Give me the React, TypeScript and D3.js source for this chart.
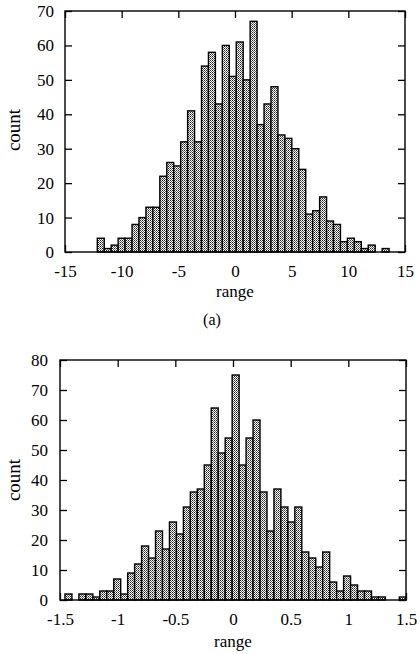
import React, { useEffect, useRef } from 'react';
import * as d3 from 'd3';

// (a) histogram of range, bins start at -12.15, width ~0.613
const topBinStart = -12.15;
const topBinWidth = 0.613;
const topCounts = [
  4, 1, 2, 4, 4, 8, 10, 13, 13, 22, 26, 25, 32, 41, 32, 54, 58, 43, 60, 51, 61,
  50, 67, 37, 43, 48, 34, 33, 30, 24, 11, 12, 16, 9, 8, 3, 4, 3, 1, 2, 0, 1,
];
const topXTicks = [-15, -10, -5, 0, 5, 10, 15];
const topYTicks = [0, 10, 20, 30, 40, 50, 60, 70];

// (b) histogram, bins start at -1.457, width ~0.0604
const botBinStart = -1.457;
const botBinWidth = 0.0604;
const botCounts = [
  2, 0, 2, 2, 1, 3, 3, 7, 2, 9, 12, 18, 14, 23, 17, 26, 22, 31, 36, 37, 45, 64,
  49, 54, 75, 45, 54, 60, 36, 23, 37, 31, 26, 31, 16, 14, 11, 16, 6, 3, 8, 5, 3,
  3, 1, 1, 0, 0, 1,
];
const botXTicks = [-1.5, -1, -0.5, 0, 0.5, 1, 1.5];
const botYTicks = [0, 10, 20, 30, 40, 50, 60, 70, 80];

const FONT = '"Liberation Serif", "Times New Roman", serif';

type Panel = {
  left: number; right: number; top: number; bottom: number;
  xTicks: number[]; yTicks: number[];
  binStart: number; binWidth: number; counts: number[];
  yLabelPad: number; xLabelPad: number;
  countY: number; rangeY: number;
};

const App = () => {
  const svgRef = useRef<SVGSVGElement>(null);

  useEffect(() => {
    const svg = d3.select(svgRef.current);
    svg.selectAll('*').remove();

    // stipple fill for the bars (dotted columns)
    const defs = svg.append('defs');
    const pat = defs.append('pattern')
      .attr('id', 'dots')
      .attr('patternUnits', 'userSpaceOnUse')
      .attr('width', 2)
      .attr('height', 2);
    pat.append('rect').attr('width', 2).attr('height', 2).attr('fill', 'white');
    pat.append('rect').attr('x', 0).attr('y', 0).attr('width', 1).attr('height', 1).attr('fill', '#222');
    pat.append('rect').attr('x', 1).attr('y', 1).attr('width', 1).attr('height', 1).attr('fill', '#666');

    const drawPanel = (p: Panel) => {
      const x = d3.scaleLinear()
        .domain([p.xTicks[0], p.xTicks[p.xTicks.length - 1]])
        .range([p.left, p.right]);
      const y = d3.scaleLinear()
        .domain([0, p.yTicks[p.yTicks.length - 1]])
        .range([p.bottom, p.top]);

      const g = svg.append('g');

      // axes: ticks point inward on all four sides, labels only bottom/left
      const bx = g.append('g')
        .attr('transform', `translate(0,${p.bottom})`)
        .call(d3.axisBottom(x).tickValues(p.xTicks).tickSizeInner(-7).tickSizeOuter(0)
          .tickPadding(p.xLabelPad).tickFormat(d => String(d)));
      const ly = g.append('g')
        .attr('transform', `translate(${p.left},0)`)
        .call(d3.axisLeft(y).tickValues(p.yTicks).tickSizeInner(-7).tickSizeOuter(0)
          .tickPadding(p.yLabelPad).tickFormat(d => String(d)));
      const tx = g.append('g')
        .attr('transform', `translate(0,${p.top})`)
        .call(d3.axisTop(x).tickValues(p.xTicks).tickSizeInner(-7).tickSizeOuter(0).tickFormat(() => ''));
      const ry = g.append('g')
        .attr('transform', `translate(${p.right},0)`)
        .call(d3.axisRight(y).tickValues(p.yTicks).tickSizeInner(-7).tickSizeOuter(0).tickFormat(() => ''));

      [bx, ly, tx, ry].forEach(a => {
        a.select('.domain').remove();
        a.selectAll('line').attr('stroke', '#000').attr('stroke-width', 1.3);
        a.selectAll('text')
          .attr('fill', '#000')
          .style('font-family', FONT)
          .style('font-size', '17px');
      });

      // bars
      g.append('g')
        .selectAll('rect')
        .data(p.counts.map((c, i) => ({ c, x0: p.binStart + i * p.binWidth })).filter(d => d.c > 0))
        .enter()
        .append('rect')
        .attr('x', d => x(d.x0))
        .attr('y', d => y(d.c))
        .attr('width', d => x(d.x0 + p.binWidth) - x(d.x0))
        .attr('height', d => y(0) - y(d.c))
        .attr('fill', 'url(#dots)')
        .attr('stroke', '#000')
        .attr('stroke-width', 1.4);

      // frame
      g.append('rect')
        .attr('x', p.left)
        .attr('y', p.top)
        .attr('width', p.right - p.left)
        .attr('height', p.bottom - p.top)
        .attr('fill', 'none')
        .attr('stroke', '#000')
        .attr('stroke-width', 1.4);

      // axis titles
      g.append('text')
        .attr('transform', `translate(20,${p.countY}) rotate(-90)`)
        .attr('text-anchor', 'middle')
        .style('font-family', FONT)
        .style('font-size', '19px')
        .text('count');
      g.append('text')
        .attr('x', (p.left + p.right) / 2)
        .attr('y', p.rangeY)
        .attr('text-anchor', 'middle')
        .style('font-family', FONT)
        .style('font-size', '17px')
        .text('range');
    };

    drawPanel({
      left: 65, right: 405, top: 11, bottom: 252,
      xTicks: topXTicks, yTicks: topYTicks,
      binStart: topBinStart, binWidth: topBinWidth, counts: topCounts,
      yLabelPad: 11, xLabelPad: 13, countY: 130, rangeY: 297,
    });

    svg.append('text')
      .attr('x', 212)
      .attr('y', 325)
      .attr('text-anchor', 'middle')
      .style('font-family', FONT)
      .style('font-size', '16px')
      .text('(a)');

    drawPanel({
      left: 60, right: 406, top: 360, bottom: 600,
      xTicks: botXTicks, yTicks: botYTicks,
      binStart: botBinStart, binWidth: botBinWidth, counts: botCounts,
      yLabelPad: 12, xLabelPad: 13, countY: 480, rangeY: 647,
    });
  }, []);

  return (
    <div style={{ position: 'absolute', left: 0, top: 0, width: 420, height: 654, background: 'white' }}>
      <svg ref={svgRef} width={420} height={654} viewBox="0 0 420 654" />
    </div>
  );
};

export default App;
